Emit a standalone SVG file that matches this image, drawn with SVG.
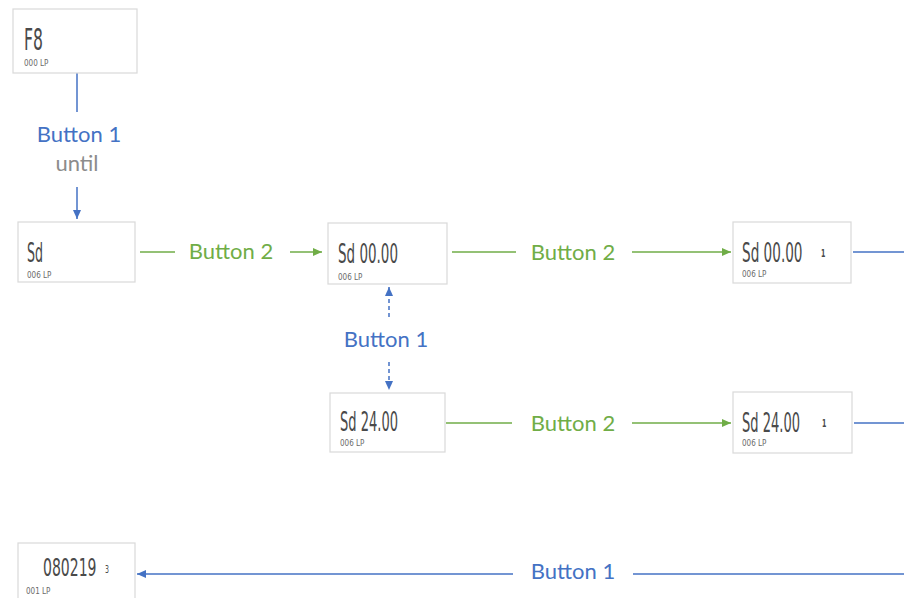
<svg xmlns="http://www.w3.org/2000/svg" width="904" height="598" viewBox="0 0 904 598">
<style>
.box{fill:#fff;stroke:#d9d9d9;stroke-width:1.2}
.lcd{font-family:"DejaVu Sans Condensed","Liberation Sans",sans-serif;fill:#4a4a4a}
.sm{font-family:"DejaVu Sans Condensed","Liberation Sans",sans-serif;fill:#6a6a6a;font-size:8px}
.lbl{font-family:Lato,"Liberation Sans",sans-serif;font-size:22px;text-anchor:middle}
.g{fill:#70ad47}.b{fill:#4472c4}.gr{fill:#8c8c8c}
.lg{stroke:#70ad47;stroke-width:1.5;fill:none}
.lb{stroke:#4472c4;stroke-width:1.5;fill:none}
</style>
<defs>
<marker id="ag" markerUnits="userSpaceOnUse" markerWidth="10" markerHeight="10" refX="9" refY="5" orient="auto"><path d="M0,1 L9,5 L0,9 Z" fill="#70ad47"/></marker>
<marker id="ab" markerUnits="userSpaceOnUse" markerWidth="10" markerHeight="10" refX="9" refY="5" orient="auto"><path d="M0,1 L9,5 L0,9 Z" fill="#4472c4"/></marker>
</defs>
<rect width="904" height="598" fill="#fff"/>
<g id="connectors">
<line class="lb" x1="77" y1="73" x2="77" y2="112"/>
<line class="lb" x1="77" y1="187" x2="77" y2="219" marker-end="url(#ab)"/>
<line class="lg" x1="140" y1="252" x2="175" y2="252"/>
<line class="lg" x1="290" y1="252" x2="322" y2="252" marker-end="url(#ag)"/>
<line class="lg" x1="452" y1="252" x2="516" y2="252"/>
<line class="lg" x1="632" y1="252" x2="731" y2="252" marker-end="url(#ag)"/>
<line class="lb" x1="853" y1="252" x2="904" y2="252"/>
<line class="lb" x1="389" y1="317" x2="389" y2="287" stroke-dasharray="4,3" marker-end="url(#ab)"/>
<line class="lb" x1="389" y1="362" x2="389" y2="390" stroke-dasharray="4,3" marker-end="url(#ab)"/>
<line class="lg" x1="446" y1="423" x2="512" y2="423"/>
<line class="lg" x1="632" y1="423" x2="731" y2="423" marker-end="url(#ag)"/>
<line class="lb" x1="854" y1="423" x2="904" y2="423"/>
<line class="lb" x1="904" y1="574" x2="633" y2="574"/>
<line class="lb" x1="513" y1="574" x2="137" y2="574" marker-end="url(#ab)"/>
<text class="lbl b" x="79" y="142">Button 1</text>
<text class="lbl gr" x="77" y="171">until</text>
<text class="lbl g" x="231" y="259">Button 2</text>
<text class="lbl g" x="573" y="260">Button 2</text>
<text class="lbl b" x="386" y="347">Button 1</text>
<text class="lbl g" x="573" y="431">Button 2</text>
<text class="lbl b" x="573" y="579">Button 1</text>
</g>
<g id="n_f8">
<rect class="box" x="13" y="9" width="124" height="64"/>
<text class="lcd" transform="translate(24,50) scale(0.58,1)" font-size="30">F8</text>
<text class="sm" x="24" y="66">000 LP</text>
</g>
<g id="n_sd">
<rect class="box" x="18" y="222" width="117" height="60"/>
<text class="lcd" transform="translate(27,262) scale(0.52,1)" font-size="27">Sd</text>
<text class="sm" x="27" y="278">006 LP</text>
</g>
<g id="n_sd0000">
<rect class="box" x="328" y="223" width="119" height="61"/>
<text class="lcd" transform="translate(338,263) scale(0.555,1)" font-size="27">Sd 00.00</text>
<text class="sm" x="338" y="280">006 LP</text>
</g>
<g id="n_sd0000b">
<rect class="box" x="733" y="222" width="118" height="61"/>
<text class="lcd" transform="translate(742,262) scale(0.56,1)" font-size="27">Sd 00.00</text>
<text class="lcd" transform="translate(821,257) scale(0.7,1)" font-size="10" font-weight="bold">1</text>
<text class="sm" x="742" y="277">006 LP</text>
</g>
<g id="n_sd2400">
<rect class="box" x="330" y="393" width="115" height="59"/>
<text class="lcd" transform="translate(340,431) scale(0.537,1)" font-size="27">Sd 24.00</text>
<text class="sm" x="340" y="446">006 LP</text>
</g>
<g id="n_sd2400b">
<rect class="box" x="733" y="392" width="119" height="61"/>
<text class="lcd" transform="translate(742,432) scale(0.537,1)" font-size="27">Sd 24.00</text>
<text class="lcd" transform="translate(822,427) scale(0.7,1)" font-size="10" font-weight="bold">1</text>
<text class="sm" x="742" y="446">006 LP</text>
</g>
<g id="n_080219">
<rect class="box" x="18" y="543" width="117" height="62"/>
<text class="lcd" transform="translate(43,576) scale(0.65,1)" font-size="24">080219</text>
<text class="lcd" transform="translate(105,573) scale(0.7,1)" font-size="10">3</text>
<text class="sm" x="26" y="594">001 LP</text>
</g>
</svg>
